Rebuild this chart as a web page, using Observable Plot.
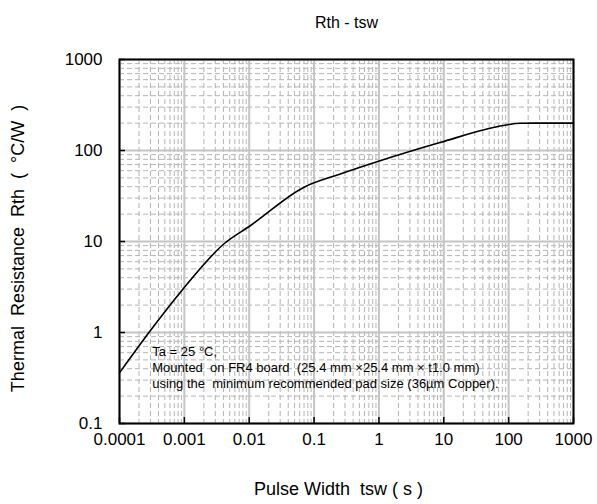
<!DOCTYPE html>
<html><head><meta charset="utf-8">
<script src="https://cdn.jsdelivr.net/npm/d3@7"></script>
<script src="https://cdn.jsdelivr.net/npm/@observablehq/plot@0.6"></script>
<style>
body{margin:0;background:#fff;}
g[aria-label="note"] text{letter-spacing:0.4px;}
g[aria-label="xlabel"] text{letter-spacing:0.7px;}
g[aria-label="ylabel"] text{letter-spacing:1.1px;}
g[aria-label="title"] text{letter-spacing:0.3px;}
</style>
</head><body><div id="chart"></div>
<script>
const titleText = "Rth - tsw";
const xLabel = "Pulse Width  tsw ( s )";
const yLabel = "Thermal  Resistance  Rth  (  °C/W  )";

const pulseWidth = [0.0001, 0.0003, 0.00087, 0.0041, 0.0105, 0.07, 0.26, 1.07, 9, 60, 100, 150, 250, 1000];
const rth        = [0.36,   1.05,   2.77,    9.45,   15,     39.5, 55.5, 77.6, 123, 180, 193, 199, 200, 200];

const xTicks = [0.0001, 0.001, 0.01, 0.1, 1, 10, 100, 1000];
const xTickLabels = ["0.0001", "0.001", "0.01", "0.1", "1", "10", "100", "1000"];
const yTicks = [0.1, 1, 10, 100, 1000];
const yTickLabels = ["0.1", "1", "10", "100", "1000"];

const noteLines = [
  "Ta = 25 °C,",
  "Mounted  on FR4 board  (25.4 mm ×25.4 mm × t1.0 mm)",
  "using the  minimum recommended pad size (36µm Copper)."
];
const noteAt = {t: 0.00032, r: 0.74};

function minorTicks(lo, hi) {
  const out = [];
  for (let e = lo; e < hi; e++) for (let m = 2; m <= 9; m++) out.push(+(m * Math.pow(10, e)).toPrecision(6));
  return out;
}
const minorX = minorTicks(-4, 3);
const minorY = minorTicks(-1, 3);

const data = pulseWidth.map((t, i) => ({t, r: rth[i]}));

const chart = Plot.plot({
  width: 597, height: 504,
  marginTop: 59, marginRight: 24, marginBottom: 81, marginLeft: 119,
  style: {fontFamily: "'Liberation Sans', Arial, sans-serif", fontSize: "17px", color: "#000", background: "#fff", overflow: "visible"},
  x: {type: "log", domain: [1e-4, 1e3]},
  y: {type: "log", domain: [0.1, 1000]},
  marks: [
    Plot.gridX(minorX, {stroke: "#b4b4b4", strokeOpacity: 1, strokeWidth: 1, strokeDasharray: "5,3"}),
    Plot.gridY(minorY, {stroke: "#b4b4b4", strokeOpacity: 1, strokeWidth: 1, strokeDasharray: "5,3"}),
    Plot.gridX(xTicks, {stroke: "#c4c4c4", strokeOpacity: 1, strokeWidth: 2}),
    Plot.gridY(yTicks, {stroke: "#c4c4c4", strokeOpacity: 1, strokeWidth: 2}),
    Plot.line(data, {x: "t", y: "r", stroke: "black", strokeWidth: 1.6, curve: "monotone-x"}),
    Plot.text([noteLines.join("\n")], {x: () => noteAt.t, y: () => noteAt.r, textAnchor: "start", lineAnchor: "top", fontSize: 13, lineHeight: 16 / 13, fill: "black", ariaLabel: "note"}),
    Plot.frame({stroke: "black", strokeWidth: 2}),
    Plot.axisX(xTicks, {tickSize: -6, text: null, label: null, stroke: "black", strokeWidth: 1.5}),
    Plot.axisY(yTicks, {tickSize: -6, text: null, label: null, stroke: "black", strokeWidth: 1.5}),
    Plot.axisX(xTicks, {tickSize: 0, tickPadding: 9, tickFormat: d => xTickLabels[xTicks.indexOf(d)], label: null, fontSize: 17}),
    Plot.axisY(yTicks, {tickSize: 0, tickPadding: 17, tickFormat: d => yTickLabels[yTicks.indexOf(d)], label: null, fontSize: 17}),
    Plot.text([titleText], {frameAnchor: "top", dy: -37, textAnchor: "middle", lineAnchor: "middle", fontSize: 16, fill: "black", ariaLabel: "title"}),
    Plot.text([xLabel], {frameAnchor: "bottom", dx: -8, dy: 66, textAnchor: "middle", lineAnchor: "middle", fontSize: 18, fill: "black", ariaLabel: "xlabel"}),
    Plot.text([yLabel], {frameAnchor: "left", dx: -101, dy: 7, rotate: -90, textAnchor: "middle", lineAnchor: "middle", fontSize: 18, fill: "black", ariaLabel: "ylabel"})
  ]
});
document.getElementById("chart").appendChild(chart);
</script>
</body></html>
